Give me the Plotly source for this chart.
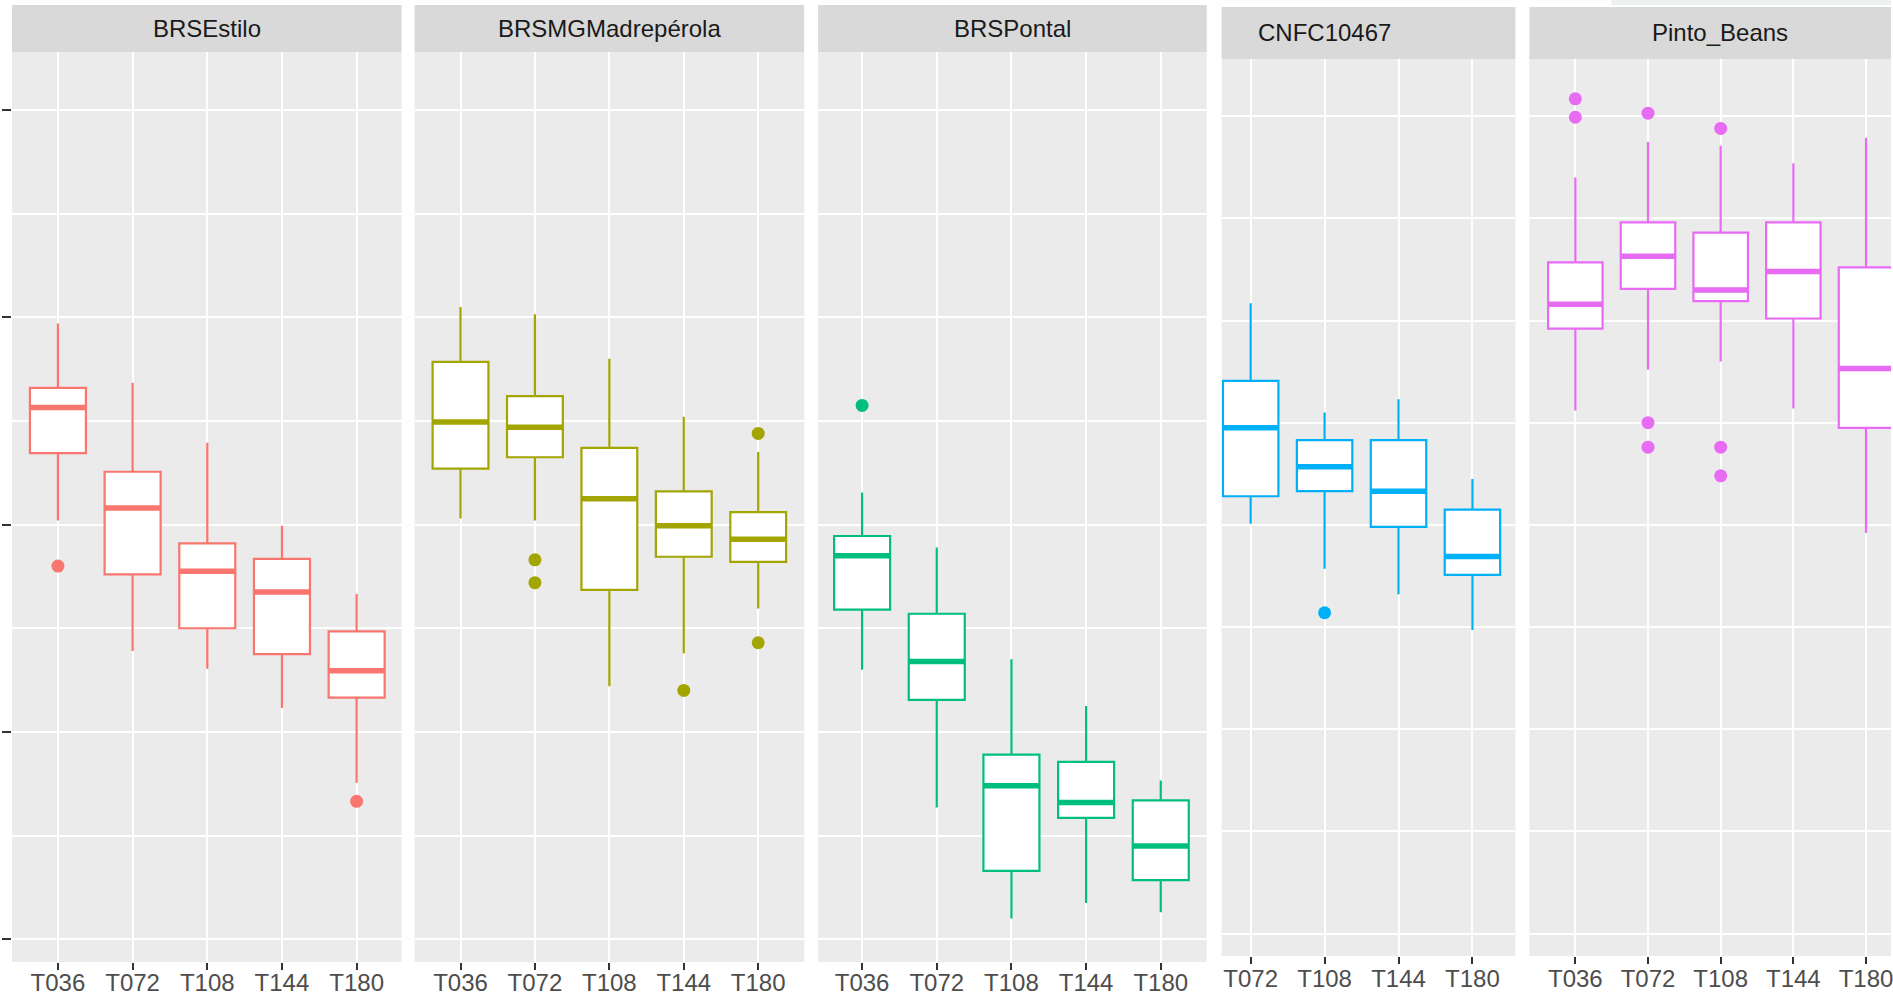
import plotly.graph_objects as go

# ---- data: box statistics per genotype and sampling time ----
genotypes = ["BRSEstilo", "BRSMGMadrepérola", "BRSPontal", "CNFC10467", "Pinto_Beans"]

times = [
    ["T036", "T072", "T108", "T144", "T180"],
    ["T036", "T072", "T108", "T144", "T180"],
    ["T036", "T072", "T108", "T144", "T180"],
    ["T072", "T108", "T144", "T180"],
    ["T036", "T072", "T108", "T144", "T180"],
]

lower_whisker = [
    [60.4, 47.8, 46.1, 42.3, 35.1],
    [60.6, 60.4, 44.4, 47.6, 51.9],
    [46.0, 32.7, 22.0, 23.5, 22.6],
    [60.1, 55.7, 53.2, 49.7],
    [71.2, 75.2, 76.0, 71.4, 59.2],
]
q1 = [
    [66.9, 55.2, 50.0, 47.5, 43.3],
    [65.4, 66.5, 53.7, 56.9, 56.4],
    [51.8, 43.1, 26.6, 31.7, 25.7],
    [62.8, 63.3, 59.8, 55.1],
    [79.2, 83.1, 81.9, 80.2, 69.5],
]
median = [
    [71.3, 61.6, 55.5, 53.5, 45.9],
    [69.9, 69.4, 62.5, 59.9, 58.6],
    [57.0, 46.8, 34.8, 33.2, 29.0],
    [69.5, 65.7, 63.3, 56.9],
    [81.6, 86.3, 83.0, 84.8, 75.3],
]
q3 = [
    [73.2, 65.1, 58.2, 56.7, 49.7],
    [75.7, 72.4, 67.4, 63.2, 61.2],
    [58.9, 51.4, 37.8, 37.1, 33.4],
    [74.1, 68.3, 68.3, 61.5],
    [85.7, 89.6, 88.6, 89.6, 85.2],
]
upper_whisker = [
    [79.4, 73.7, 67.9, 59.9, 53.3],
    [81.0, 80.3, 76.0, 70.4, 67.0],
    [63.1, 57.8, 47.0, 42.5, 35.3],
    [81.7, 71.0, 72.3, 64.5],
    [94.0, 97.5, 97.1, 95.4, 97.9],
]

outlier_time = [
    ["T036", "T180"],
    ["T072", "T072", "T144", "T180", "T180"],
    ["T036"],
    ["T108"],
    ["T036", "T036", "T072", "T072", "T072", "T108", "T108", "T108"],
]
outlier_value = [
    [56.0, 33.3],
    [56.6, 54.4, 44.0, 68.8, 48.6],
    [71.5],
    [51.4],
    [101.7, 99.9, 100.3, 70.0, 67.6, 98.8, 67.6, 64.8],
]

colors = ["#F8766D", "#A3A500", "#00BF7D", "#00B0F6", "#E76BF3"]
y_major = [20, 40, 60, 80, 100]
y_minor = [30, 50, 70, 90]
y_range = [17.8, 105.6]

# ---- page geometry (pixels from the top-left corner) ----
W = 1893
FIG_H = 1004  # figure height in pixels
panel_x = [(12, 402), (415, 805), (819, 1208), (1223, 1517), (1531, 1893)]
panel_y = [(52, 962), (52, 962), (52, 962), (59, 956), (59, 956)]
strip_y = [(5, 52), (5, 52), (5, 52), (7, 59), (7, 59)]
first_cat_px = [58, 461, 863, 1252, 1577]
cat_step_px = [74.75, 74.5, 74.75, 74.0, 72.75]
label_x_px = [207, 610, 1013.5, 1326, 1722]
tick_label_shift = [-8, -8, -8, -6, -6]

FONT = "Liberation Sans, Arial, sans-serif"
TXT_SIZE = 24
BOX_W = 0.75


def py(px):
    """Convert a pixel row (from top) to paper coordinates."""
    return 1 - px / FIG_H


fig = go.Figure()
layout_axes = {}
shapes = []
annotations = []

for i, g in enumerate(genotypes):
    sfx = "" if i == 0 else str(i + 1)
    xa, ya = "x" + sfx, "y" + sfx
    pos = list(range(len(times[i])))
    col = colors[i]

    fig.add_trace(go.Box(
        x=pos, q1=q1[i], median=median[i], q3=q3[i],
        lowerfence=lower_whisker[i], upperfence=upper_whisker[i],
        width=BOX_W, fillcolor="white", line=dict(color=col, width=2.2),
        whiskerwidth=0, boxpoints=False, xaxis=xa, yaxis=ya,
        showlegend=False, hoverinfo="skip",
    ))

    # thicker median bars
    mx, my = [], []
    for p, m in zip(pos, median[i]):
        mx += [p - BOX_W / 2, p + BOX_W / 2, None]
        my += [m, m, None]
    fig.add_trace(go.Scatter(
        x=mx, y=my, mode="lines", line=dict(color=col, width=5.5),
        xaxis=xa, yaxis=ya, showlegend=False, hoverinfo="skip",
    ))

    # outlying observations
    fig.add_trace(go.Scatter(
        x=[times[i].index(t) for t in outlier_time[i]], y=outlier_value[i],
        mode="markers", marker=dict(color=col, size=13, line=dict(width=0)),
        xaxis=xa, yaxis=ya, showlegend=False, hoverinfo="skip",
    ))

    x0, x1 = panel_x[i]
    yt, yb = panel_y[i]
    c0, step = first_cat_px[i], cat_step_px[i]
    layout_axes["xaxis" + sfx] = dict(
        domain=[x0 / W, x1 / W], anchor=ya,
        range=[(x0 - c0) / step, (x1 - c0) / step],
        tickmode="array", tickvals=pos, ticktext=times[i],
        showgrid=True, gridcolor="white", gridwidth=2, zeroline=False,
        ticks="outside", ticklen=7, tickwidth=2, tickcolor="#333333",
        tickfont=dict(family=FONT, size=TXT_SIZE, color="#4D4D4D"),
        ticklabelstandoff=tick_label_shift[i],
        ticklabeloverflow="allow",
        showline=False, fixedrange=True,
    )
    layout_axes["yaxis" + sfx] = dict(
        domain=[py(yb), py(yt)], anchor=xa, range=y_range,
        tickmode="array", tickvals=y_major, showticklabels=False,
        ticks="outside" if i == 0 else "", ticklen=9, tickwidth=2,
        tickcolor="#333333",
        showgrid=True, gridcolor="white", gridwidth=2, zeroline=False,
        minor=dict(tickmode="array", tickvals=y_minor, showgrid=True,
                   gridcolor="white", gridwidth=1.5, ticks=""),
        showline=False, fixedrange=True,
    )

    # facet strip
    s0, s1 = strip_y[i]
    shapes.append(dict(
        type="rect", xref="paper", yref="paper",
        x0=x0 / W, x1=x1 / W, y0=py(s1), y1=py(s0),
        fillcolor="#D9D9D9", line=dict(width=0), layer="below",
    ))
    annotations.append(dict(
        text=g, xref="paper", yref="paper",
        x=label_x_px[i] / W, y=py((s0 + s1) / 2),
        xanchor="center", yanchor="middle", showarrow=False,
        font=dict(family=FONT, size=TXT_SIZE, color="#1A1A1A"),
    ))

shapes.append(dict(
    type="rect", xref="paper", yref="paper",
    x0=1613 / W, x1=1, y0=py(5), y1=1,
    fillcolor="#EDF1EF", line=dict(width=0), layer="below",
))

fig.update_layout(
    width=W, height=FIG_H, autosize=False,
    margin=dict(l=0, r=0, t=0, b=0, pad=0),
    paper_bgcolor="white", plot_bgcolor="#EBEBEB",
    boxmode="overlay", showlegend=False,
    shapes=shapes, annotations=annotations,
    font=dict(family=FONT),
    **layout_axes,
)

fig.write_html("out.html", config={"displayModeBar": False})
